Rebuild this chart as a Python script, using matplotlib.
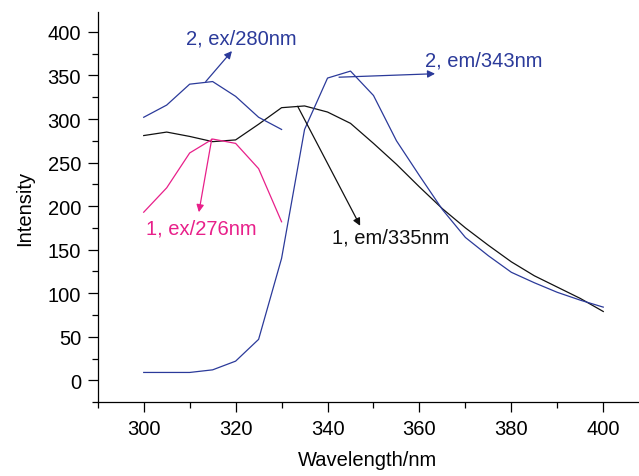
import numpy as np
import matplotlib
matplotlib.use('Agg')
import matplotlib.pyplot as plt
from matplotlib.ticker import MultipleLocator

plt.rcParams['font.family'] = ['Liberation Sans', 'DejaVu Sans']

# emission spectra (300-400 nm, 5 nm steps)
wl_em = np.arange(300, 401, 5)
em1 = [281, 285, 280, 274, 276, 294, 313, 315, 308, 295, 272, 248, 222, 197,
       175, 155, 136, 120, 107, 94, 79]
em2 = [9, 9, 9, 12, 22, 47, 140, 288, 347, 355, 327, 275, 235, 196,
       164, 143, 124, 112, 101, 92, 84]

# excitation spectra (300-330 nm)
wl_ex = np.arange(300, 331, 5)
ex1 = [193, 221, 261, 277, 272, 243, 182]
ex2 = [302, 316, 340, 343, 326, 302, 288]

black = '#111111'
blue = '#2b3a9a'
pink = '#e8208a'

fig = plt.figure(figsize=(6.39, 4.77), dpi=100)
ax = fig.add_axes([0.153, 0.155, 0.845, 0.818])

ax.plot(wl_em, em1, color=black, lw=0.9)
ax.plot(wl_em, em2, color=blue, lw=0.9)
ax.plot(wl_ex, ex1, color=pink, lw=0.9)
ax.plot(wl_ex, ex2, color=blue, lw=0.9)

fs = 14.5
def label(txt, start, end, textpos, color):
    ax.annotate('', xy=end, xytext=start,
                arrowprops=dict(arrowstyle='-|>', color=color, lw=0.9,
                                mutation_scale=11, shrinkA=0, shrinkB=0))
    ax.text(textpos[0], textpos[1], txt, color=color, fontsize=fs,
            ha='center', va='center')

label('2, ex/280nm', (313.5, 343), (319.2, 378), (321.2, 393), blue)
label('1, ex/276nm', (314.8, 277), (312.0, 193), (312.6, 175), pink)
label('1, em/335nm', (333.5, 314.6), (347.1, 177.4), (353.7, 164), black)
label('2, em/343nm', (342.5, 348), (363.4, 352), (373.9, 368), blue)

ax.set_xlim(290, 407.5)
ax.set_ylim(-25, 423)
ax.xaxis.set_major_locator(MultipleLocator(20))
ax.xaxis.set_minor_locator(MultipleLocator(10))
ax.yaxis.set_major_locator(MultipleLocator(50))
ax.yaxis.set_minor_locator(MultipleLocator(25))
ax.set_xticks(np.arange(300, 401, 20))
ax.set_yticks(np.arange(0, 401, 50))
ax.tick_params(which='major', direction='out', length=7, width=0.9,
               labelsize=fs, pad=5)
ax.tick_params(which='minor', direction='out', length=4, width=0.9)
for s in ['top', 'right']:
    ax.spines[s].set_visible(False)
for s in ['left', 'bottom']:
    ax.spines[s].set_linewidth(0.9)

ax.set_xlabel('Wavelength/nm', fontsize=fs, labelpad=9)
ax.set_ylabel('Intensity', fontsize=fs, labelpad=10)

fig.savefig('out.png', dpi=100)
